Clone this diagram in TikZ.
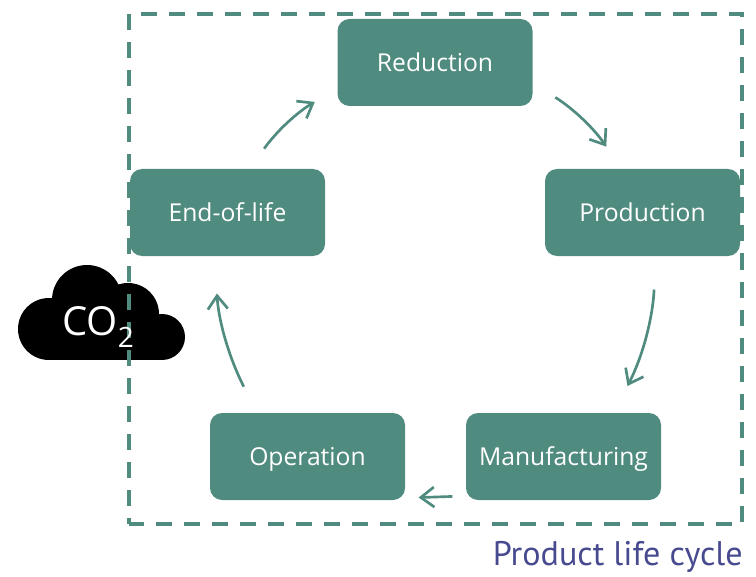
\documentclass[tikz,border=0pt]{standalone}
\usepackage{fontspec}
\setmainfont{Open Sans}
\newfontfamily\captionfont{PT Sans}
\usetikzlibrary{arrows.meta}
\definecolor{tealbox}{HTML}{508B80}
\definecolor{captionblue}{HTML}{474A8F}

\begin{document}
\begin{tikzpicture}[x=0.75pt,y=-0.75pt,>={Straight Barb[length=10pt,width=15pt]}]

    % Define styles
    \tikzstyle{stage} = [rectangle, rounded corners=9pt, fill=tealbox, text=white, text centered, font=\fontsize{18.5}{20}\selectfont, inner sep=0pt, text height=17pt, text depth=3.5pt, minimum height=65.25pt, minimum width=146.25pt]
    \tikzstyle{flow} = [->, draw=tealbox, line width=2pt]
    \tikzstyle{frameline} = [draw=tealbox, line width=3pt, dash pattern=on 12pt off 9pt]

    \useasboundingbox (0,0) rectangle (756,577);

    % Cloud
    \fill[black] (49,329) circle[radius=31] (87,300) circle[radius=35] (128,314) circle[radius=31] (162,337) circle[radius=23];
    \fill[black] (49,320) rectangle (162,360);

    % Life cycle frame
    \coordinate (frametl) at (129,14);
    \coordinate (frametr) at (741.5,14);
    \coordinate (framebr) at (741.5,523.5);
    \coordinate (framebl) at (129,523.5);
    \draw[frameline] (frametl) -- (framebl);
    \draw[frameline, dash phase=12pt] (frametl) -- (frametr) -- (framebr) -- (framebl);

    % Stages
    \node[stage] (reduction) at (435,62.5) {Reduction};
    \node[stage] (production) at (642.5,212.5) {Production};
    \node[stage] (manufacturing) at (563.5,456.5) {Manufacturing};
    \node[stage] (operation) at (307.5,456.5) {Operation};
    \node[stage] (endoflife) at (227.5,212.5) {End-of-life};

    % Labels
    \node[text=white, inner sep=0pt, font=\fontsize{30}{30}\selectfont] (co2) at (98,327) {CO\raisebox{-0.3em}{\fontsize{21}{21}\selectfont 2}};
    \node[text=captionblue, inner sep=0pt, anchor=base east, font=\captionfont\fontsize{25.6}{28}\selectfont] (caption) at (743,565) {Product life cycle};

    % Flows
    \draw[flow, shorten <=20pt, shorten >=20pt] (reduction.-12.5) to[bend left=12] (production.116.3);
    \draw[flow, shorten <=25pt, shorten >=22.5pt] (production.-73.4) to[bend left=12] (manufacturing.41.6);
    \draw[flow, shorten <=10pt, shorten >=10pt] (manufacturing.202.6) -- (operation.-23.6);
    \draw[flow, shorten <=22pt, shorten >=28pt] (operation.139) to[bend left=12] (endoflife.-106);
    \draw[flow, shorten <=18.5pt, shorten >=19.5pt] (endoflife.63.7) to[bend left=12] (reduction.-165.5);

\end{tikzpicture}
\end{document}
